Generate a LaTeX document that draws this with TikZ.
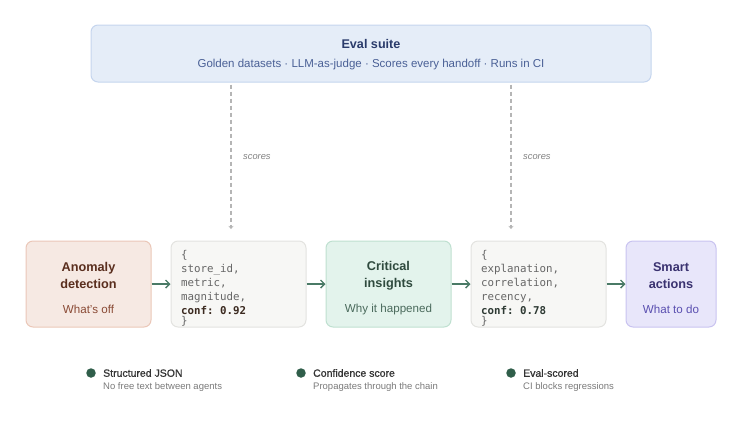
\documentclass[tikz,border=0pt]{standalone}
\usepackage{fontspec}
\setmainfont{Liberation Sans}
\setmonofont{DejaVu Sans Mono}
\newfontfamily\medfont{Liberation Sans}[FakeBold=1]
\usetikzlibrary{arrows.meta}
\definecolor{evalfill}{HTML}{E5EDF8}
\definecolor{evaldraw}{HTML}{C5D5EE}
\definecolor{evaltitle}{HTML}{2A3B6B}
\definecolor{evalsub}{HTML}{4A6096}
\definecolor{anfill}{HTML}{F6E9E3}
\definecolor{andraw}{HTML}{EBC7B8}
\definecolor{antitle}{HTML}{5A2E1E}
\definecolor{ansub}{HTML}{8A4A35}
\definecolor{crfill}{HTML}{E3F3EC}
\definecolor{crdraw}{HTML}{BFE0D0}
\definecolor{crtitle}{HTML}{2F4A3E}
\definecolor{crsub}{HTML}{4A6A5C}
\definecolor{smfill}{HTML}{E8E6FA}
\definecolor{smdraw}{HTML}{C9C3F0}
\definecolor{smtitle}{HTML}{3A3270}
\definecolor{smsub}{HTML}{5A4FB0}
\definecolor{jsfill}{HTML}{F7F7F5}
\definecolor{jsdraw}{HTML}{E3E3E0}
\definecolor{jstext}{HTML}{666666}
\definecolor{jsconf}{HTML}{3B2A20}
\definecolor{jsconfb}{HTML}{2E3A34}
\definecolor{arrowgreen}{HTML}{4A7A66}
\definecolor{dashgray}{HTML}{B5B5B5}
\definecolor{scoregray}{HTML}{808080}
\definecolor{bulletgreen}{HTML}{2F5E4A}
\definecolor{legtitle}{HTML}{333333}
\definecolor{legsub}{HTML}{7A7A7A}
\tikzset{
  x=1pt, y=-1pt,
  card/.style={draw, rounded corners=7pt, line width=1pt, inner sep=0pt},
  agent/.style={card, minimum height=86pt, align=center},
  jsonbox/.style={card, fill=jsfill, draw=jsdraw, minimum width=135pt, minimum height=86pt},
  flow/.style={draw=arrowgreen, line width=1.4pt, -{Straight Barb[length=4pt,width=8pt,line width=1.4pt]}},
  scoreline/.style={draw=dashgray, line width=1.3pt, dash pattern=on 4pt off 3pt, -{Stealth[length=3pt,width=5pt]}},
  scorelbl/.style={font=\itshape\fontsize{9.3}{10}\selectfont, text=scoregray, anchor=west, inner sep=0pt},
  json/.style={anchor=north west, inner sep=0pt, align=left, font=\ttfamily\fontsize{10.8}{14}\selectfont, text=jstext},
  bullet/.style={circle, fill=bulletgreen, minimum size=9.5pt, inner sep=0pt},
  legt/.style={anchor=west, inner sep=0pt, font=\medfont\fontsize{10.5}{12}\selectfont, text=legtitle},
  legs/.style={anchor=west, inner sep=0pt, font=\fontsize{9.5}{11}\selectfont, text=legsub},
  ttl/.style={align=center, font=\bfseries\fontsize{12.7}{17}\selectfont, inner sep=0pt},
  sub/.style={font=\fontsize{11.6}{13}\selectfont, inner sep=0pt},
}
\begin{document}
\begin{tikzpicture}
\useasboundingbox (0,0) rectangle (756,421);
% Eval suite
\node[card, fill=evalfill, draw=evaldraw, minimum width=560pt, minimum height=57pt] (eval) at (371,53.5) {};
\node[font=\bfseries\fontsize{12.6}{15}\selectfont, text=evaltitle, inner sep=0pt] (evalt) at (371,44) {Eval suite};
\node[font=\fontsize{11.5}{12}\selectfont, text=evalsub, inner sep=0pt] (evals) at (371,65) {Golden datasets · LLM-as-judge · Scores every handoff · Runs in CI};
% Agents
\node[agent, fill=anfill, draw=andraw, minimum width=125pt] (anom) at (88.5,284) {};
\node[ttl, text=antitle] (anomt) at (88.5,275.5) {Anomaly\\detection};
\node[sub, text=ansub] (anoms) at (88.5,309) {What's off};

\node[agent, fill=crfill, draw=crdraw, minimum width=125pt] (crit) at (388.5,284) {};
\node[ttl, text=crtitle] (critt) at (388.5,275.5) {Critical\\insights};
\node[sub, text=crsub] (crits) at (388.5,309) {Why it happened};

\node[agent, fill=smfill, draw=smdraw, minimum width=90pt] (smart) at (671,284) {};
\node[ttl, text=smtitle] (smartt) at (671,275.5) {Smart\\actions};
\node[sub, text=smsub] (smarts) at (671,309) {What to do};

% JSON boxes
\node[jsonbox] (j1) at (238.5,284) {};
\node[json] (j1t) at (181,250) {\{\\store\_id,\\metric,\\magnitude,\\\textbf{\textcolor{jsconf}{conf: 0.92}}\\[-4pt]\}};
\node[jsonbox] (j2) at (538.5,284) {};
\node[json] (j2t) at (481,250) {\{\\explanation,\\correlation,\\recency,\\\textbf{\textcolor{jsconfb}{conf: 0.78}}\\[-4pt]\}};

% flow arrows
\draw[flow] (anom.east) -- (j1.west);
\draw[flow] (j1.east) -- (crit.west);
\draw[flow] (crit.east) -- (j2.west);
\draw[flow] (j2.east) -- (smart.west);

% score lines
\coordinate (s1) at (231,229);
\coordinate (s2) at (511,229);
\draw[scoreline] ([yshift=-2pt]eval.south -| s1) -- (s1);
\draw[scoreline] ([yshift=-2pt]eval.south -| s2) -- (s2);
\node[scorelbl] (sc1) at (243,157) {scores};
\node[scorelbl] (sc2) at (523,157) {scores};

% legend
\node[bullet] (b1) at (91,373) {};
\node[legt] (l1t) at (103,373) {Structured JSON};
\node[legs] (l1s) at (103,387) {No free text between agents};
\node[bullet] (b2) at (301,373) {};
\node[legt] (l2t) at (313,373) {Confidence score};
\node[legs] (l2s) at (313,387) {Propagates through the chain};
\node[bullet] (b3) at (511,373) {};
\node[legt] (l3t) at (523,373) {Eval-scored};
\node[legs] (l3s) at (523,387) {CI blocks regressions};
\end{tikzpicture}
\end{document}
